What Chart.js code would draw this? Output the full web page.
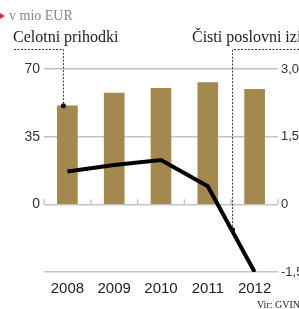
<!DOCTYPE html>
<html>
<head>
<meta charset="utf-8">
<script src="https://cdn.jsdelivr.net/npm/chart.js@4/dist/chart.umd.min.js"></script>
<style>
  html, body { margin: 0; padding: 0; background: #fff; }
  #wrap { width: 299px; height: 309px; position: relative; }
</style>
</head>
<body>
<div id="wrap"><canvas id="myChart"></canvas></div>
<script>
// data
const years = ['2008', '2009', '2010', '2011', '2012'];
const prihodki = [51, 57.5, 60, 63, 59.5];        // mio EUR, left axis
const izid = [0.73, 0.87, 0.98, 0.4, -1.5];       // mio EUR, right axis
const leftTicks = [70, 35, 0];
const rightTicks = ['3,0', '1,5', '0', '-1,5'];

const gold = '#a3884f';
const gridCol = '#c4c4c4';

// titles, callouts, small ticks on the baseline
const extras = {
    id: 'extras',
    afterDatasetsDraw(chart) {
        const ctx = chart.ctx;
        const x = chart.scales.x;
        const y = chart.scales.y;
        const y1 = chart.scales.y1;
        ctx.save();

        // little ticks between the categories
        const y0 = y.getPixelForValue(0);
        ctx.strokeStyle = gridCol;
        ctx.lineWidth = 1.5;
        for (let i = 0; i <= years.length; i++) {
            const px = x.getPixelForValue(i - 0.5);
            ctx.beginPath();
            ctx.moveTo(px, y0 - 5);
            ctx.lineTo(px, y0);
            ctx.stroke();
        }

        // header
        ctx.fillStyle = '#d0312d';
        ctx.beginPath();
        ctx.moveTo(0, 13);
        ctx.lineTo(5, 16);
        ctx.lineTo(0, 19);
        ctx.fill();
        ctx.fillStyle = '#888';
        ctx.font = '14px "Liberation Serif"';
        ctx.textBaseline = 'middle';
        ctx.fillText('v mio EUR', 9, 16);

        ctx.fillStyle = '#222';
        ctx.font = '16px "Liberation Serif"';
        ctx.textBaseline = 'alphabetic';
        ctx.fillText('Celotni prihodki', 13, 42);
        ctx.fillText('Čisti poslovni izid', 192, 42);

        ctx.strokeStyle = '#333';
        ctx.fillStyle = '#111';
        ctx.lineWidth = 1;
        ctx.setLineDash([2, 1.5]);

        // callout to first bar
        const bx = x.getPixelForValue(0) - 4;
        const by = y.getPixelForValue(prihodki[0]);
        ctx.beginPath();
        ctx.moveTo(14, 49.5);
        ctx.lineTo(bx, 49.5);
        ctx.lineTo(bx, by);
        ctx.stroke();

        // callout to the line between 2011 and 2012
        const t = 0.53;
        const lx = x.getPixelForValue(3 + t);
        const ly = y1.getPixelForValue(izid[3] + t * (izid[4] - izid[3]));
        ctx.beginPath();
        ctx.moveTo(299, 49.5);
        ctx.lineTo(lx, 49.5);
        ctx.lineTo(lx, ly);
        ctx.stroke();
        ctx.setLineDash([]);

        ctx.beginPath();
        ctx.arc(bx, by, 2.5, 0, Math.PI * 2);
        ctx.fill();
        ctx.beginPath();
        ctx.arc(lx, ly - 2, 2.5, 0, Math.PI * 2);
        ctx.fill();

        // source
        ctx.fillStyle = '#222';
        ctx.font = '10px "Liberation Serif"';
        ctx.fillText('Vir: GVIN', 257, 308);
        ctx.restore();
    }
};

const data = {
    labels: years,
    datasets: [{
        type: 'line',
        label: 'Čisti poslovni izid',
        data: izid,
        yAxisID: 'y1',
        borderColor: '#000',
        borderWidth: 4,
        pointRadius: 0,
        tension: 0,
        order: 0
    }, {
        type: 'bar',
        label: 'Celotni prihodki',
        data: prihodki,
        yAxisID: 'y',
        backgroundColor: gold,
        barThickness: 20,
        order: 1
    }]
};

const config = {
    data: data,
    options: {
        responsive: true,
        maintainAspectRatio: false,
        animation: false,
        layout: { padding: { top: 69, left: 0, right: 0, bottom: 0 } },
        plugins: { legend: { display: false }, tooltip: { enabled: false } },
        scales: {
            x: {
                grid: { display: false, drawTicks: false },
                border: { display: false },
                ticks: { color: '#222', font: { size: 15 }, padding: 8, maxRotation: 0 },
                afterFit(s) { s.height = 37; }
            },
            y: {
                position: 'left',
                min: -35,
                max: 70,
                ticks: {
                    stepSize: 35,
                    color: '#333',
                    font: { size: 14 },
                    padding: 4,
                    callback: (v) => leftTicks.includes(v) ? String(v) : ''
                },
                grid: { color: gridCol, lineWidth: 1.5, drawTicks: false },
                border: { display: false },
                afterFit(s) { s.width = 44; }
            },
            y1: {
                position: 'right',
                min: -1.5,
                max: 3,
                ticks: {
                    stepSize: 1.5,
                    color: '#333',
                    font: { size: 13 },
                    padding: 3,
                    callback: (v, i, all) => rightTicks[all.length - 1 - i]
                },
                grid: { display: false, drawTicks: false },
                border: { display: false },
                afterFit(s) { s.width = 21; }
            }
        }
    },
    plugins: [extras]
};

Chart.defaults.font.family = '"Liberation Sans", Arial, sans-serif';

const myChart = new Chart(
    document.getElementById('myChart'),
    config
);
</script>
</body>
</html>
